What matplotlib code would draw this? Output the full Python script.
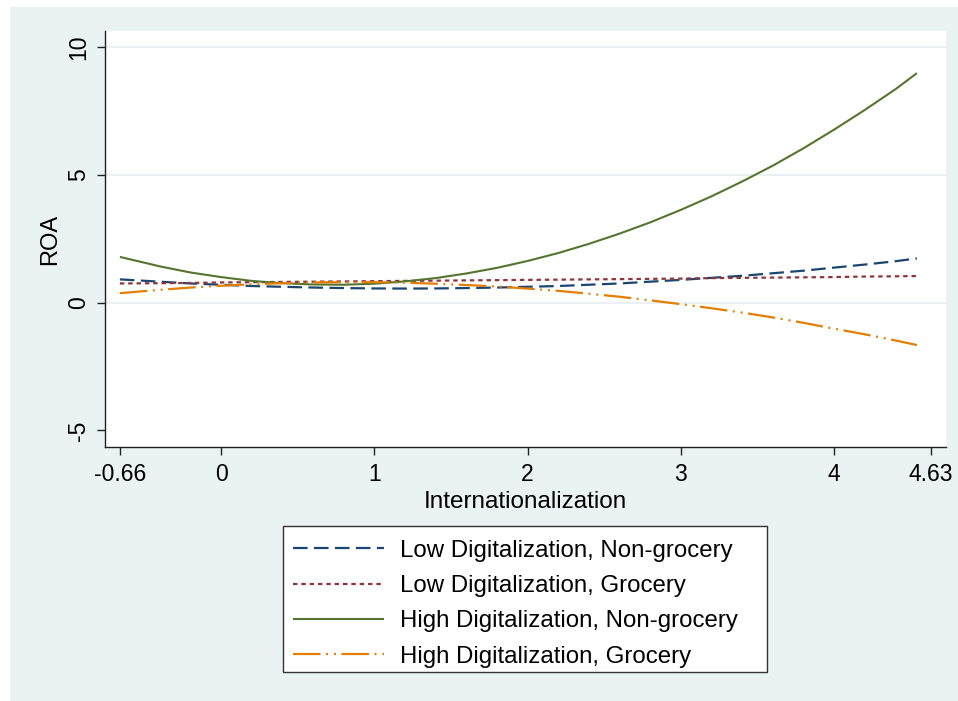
import matplotlib
matplotlib.use('Agg')
import matplotlib.pyplot as plt
from matplotlib.patches import Rectangle

plt.rcParams['font.family'] = ['Liberation Sans', 'DejaVu Sans']
plt.rcParams['lines.scale_dashes'] = False

# ---- data ----
internationalization = [-0.66, -0.4, -0.2, 0.0, 0.2, 0.4, 0.6, 0.8, 1.0, 1.2, 1.4, 1.6, 1.8, 2.0,
                        2.2, 2.4, 2.6, 2.8, 3.0, 3.2, 3.4, 3.6, 3.8, 4.0, 4.2, 4.4, 4.54]
low_dig_nongrocery = [0.91, 0.82, 0.75, 0.70, 0.65, 0.62, 0.59, 0.57, 0.555, 0.55, 0.555, 0.57, 0.59, 0.62,
                      0.65, 0.70, 0.75, 0.82, 0.89, 0.97, 1.05, 1.15, 1.25, 1.37, 1.49, 1.62, 1.73]
low_dig_grocery = [0.75, 0.76, 0.77, 0.79, 0.80, 0.81, 0.82, 0.83, 0.84, 0.85, 0.86, 0.87, 0.88, 0.89,
                   0.90, 0.91, 0.92, 0.93, 0.94, 0.96, 0.97, 0.98, 0.99, 1.00, 1.02, 1.03, 1.04]
high_dig_nongrocery = [1.79, 1.42, 1.18, 1.00, 0.85, 0.76, 0.71, 0.70, 0.74, 0.83, 0.96, 1.14, 1.36, 1.63,
                       1.94, 2.30, 2.70, 3.14, 3.63, 4.16, 4.74, 5.36, 6.04, 6.77, 7.54, 8.35, 8.98]
high_dig_grocery = [0.37, 0.50, 0.59, 0.66, 0.72, 0.76, 0.79, 0.80, 0.80, 0.78, 0.74, 0.69, 0.63, 0.55,
                    0.46, 0.35, 0.23, 0.09, -0.06, -0.22, -0.39, -0.58, -0.79, -1.02, -1.24, -1.48, -1.66]

series_labels = ['Low Digitalization, Non-grocery', 'Low Digitalization, Grocery',
                 'High Digitalization, Non-grocery', 'High Digitalization, Grocery']
xtick_values = [-0.66, 0, 1, 2, 3, 4, 4.63]
xtick_labels = ['-0.66', '0', '1', '2', '3', '4', '4.63']
ytick_values = [-5, 0, 5, 10]
ytick_labels = ['-5', '0', '5', '10']
x_title = 'Internationalization'
y_title = 'ROA'

# ---- styles ----
colors = ['#1A476F', '#90353B', '#55752F', '#E37E00']
dash_styles = [(0, (10.5, 4.6)), (0, (3.2, 2.8)), 'solid', (0, (19.8, 4.0, 1.4, 4.3, 1.4, 4.0))]
widths = [1.6, 1.6, 1.5, 1.6]

W, H = 958, 701
fig = plt.figure(figsize=(W / 100, H / 100), dpi=100)
fig.patch.set_facecolor('white')
fig.patches.append(Rectangle((10 / W, 0), 1 - 10 / W, 1 - 7 / H, transform=fig.transFigure,
                             facecolor='#EAF2F3', edgecolor='none', zorder=-10))

ax = fig.add_axes([105 / W, 1 - 447 / H, (946 - 105) / W, (447 - 31) / H])
ax.set_facecolor('white')

for yv in ytick_values[1:]:
    ax.axhline(yv, color='#E6EEF1', lw=1.2, zorder=0.5)

all_series = [low_dig_nongrocery, low_dig_grocery, high_dig_nongrocery, high_dig_grocery]
handles = []
for ys, c, ls, lw, lab in zip(all_series, colors, dash_styles, widths, series_labels):
    ln, = ax.plot(internationalization, ys, color=c, linestyle=ls, lw=lw, label=lab,
                  dash_capstyle='butt', solid_capstyle='butt', solid_joinstyle='round', zorder=2)
    handles.append(ln)

ax.set_xlim(-0.757, 4.73)
ax.set_ylim(-5.65, 10.63)
ax.set_xticks(xtick_values)
ax.set_xticklabels(xtick_labels)
ax.set_yticks(ytick_values)
ax.set_yticklabels(ytick_labels)
for lbl in ax.get_yticklabels():
    lbl.set_rotation(90)
    lbl.set_va('center')

for s in ['top', 'right']:
    ax.spines[s].set_visible(False)
for s in ['left', 'bottom']:
    ax.spines[s].set_color('#222222')
    ax.spines[s].set_linewidth(1.0)

ax.tick_params(axis='both', direction='out', length=5.8, width=1.0, color='#222222',
               labelsize=16.5, labelcolor='black')
ax.tick_params(axis='x', pad=5.8)
ax.tick_params(axis='y', pad=5.0)

ax.set_xlabel(x_title, fontsize=17.5, labelpad=3.6)
ax.set_ylabel(y_title, fontsize=17, labelpad=4.5)

# legend frame
fig.patches.append(Rectangle((283 / W, 1 - 672 / H), 484 / W, 146 / H, transform=fig.transFigure,
                             facecolor='white', edgecolor='#333333', lw=1.0, zorder=1))
leg = fig.legend(handles, series_labels, loc='upper left', bbox_to_anchor=(293 / W, 1 - 539.5 / H),
                 frameon=False, borderpad=0, borderaxespad=0, fontsize=17.3,
                 handlelength=3.79, handletextpad=0.67, labelspacing=0.56)

fig.savefig('out.png', dpi=100, facecolor=fig.get_facecolor())
